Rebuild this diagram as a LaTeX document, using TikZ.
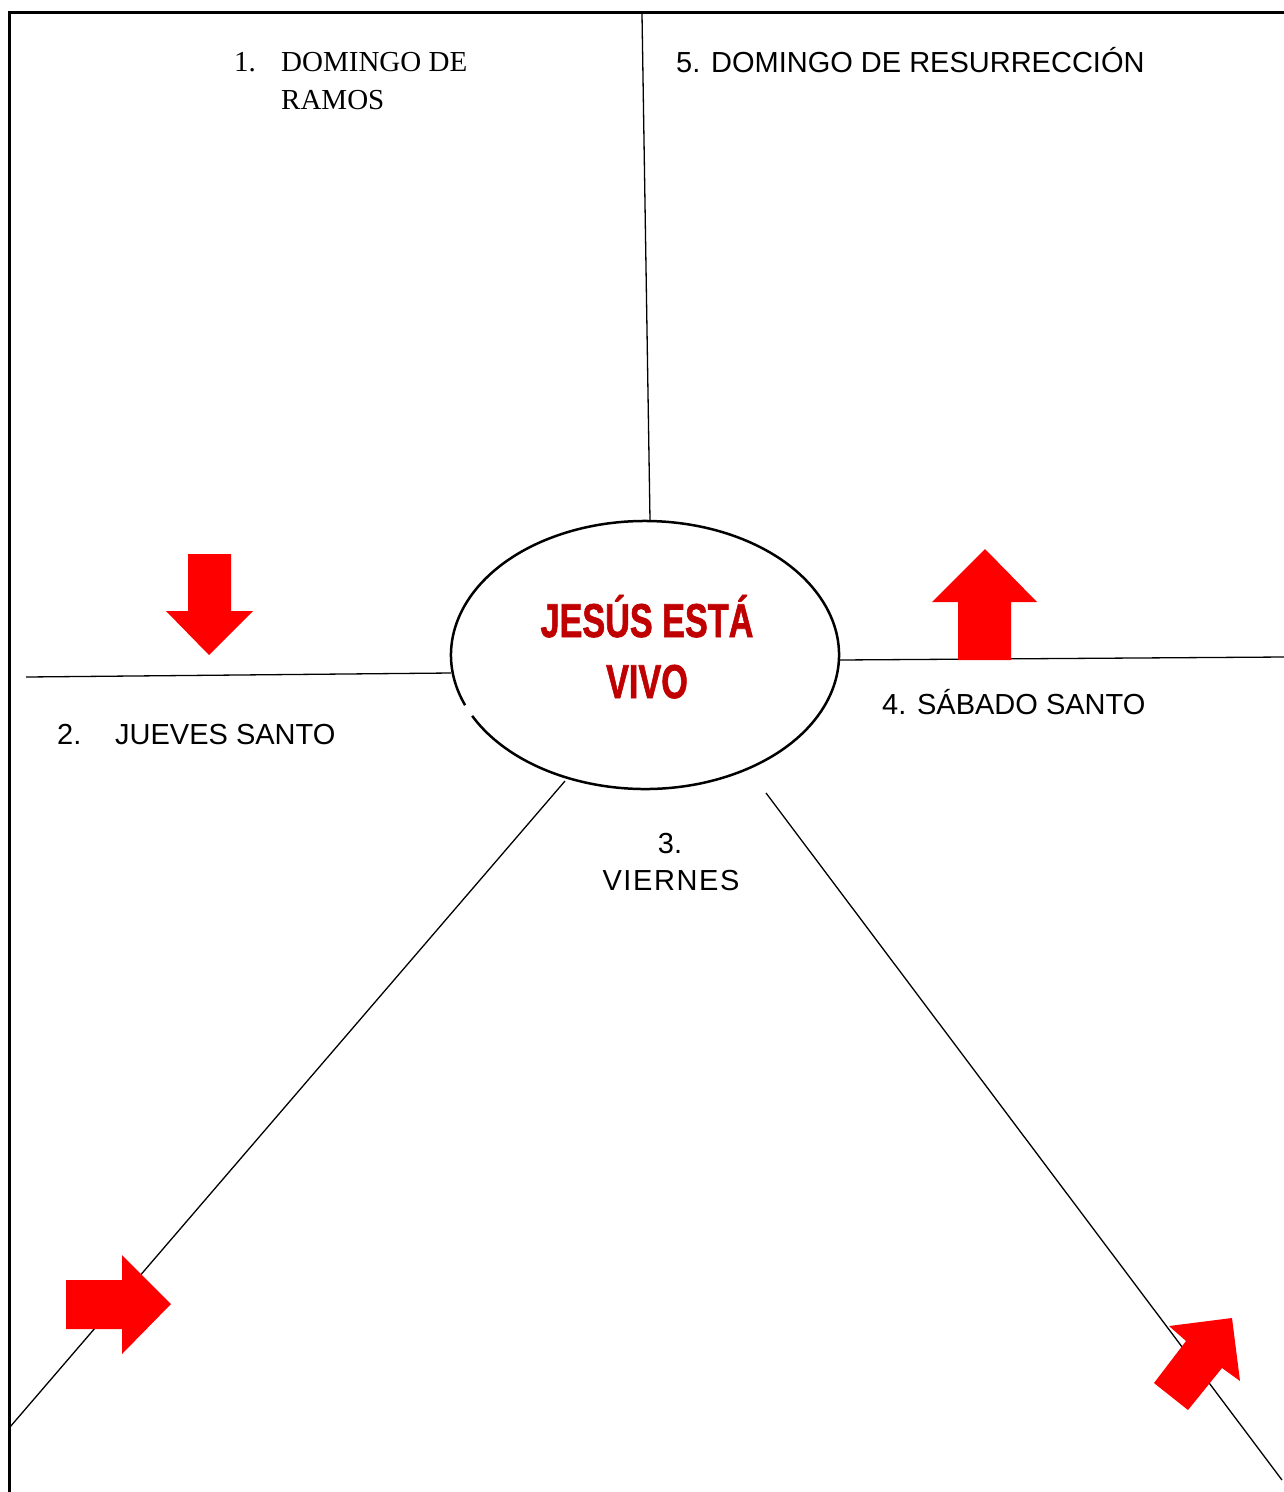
\documentclass[tikz,border=0pt]{standalone}
\usepackage{fontspec}
\usepackage{graphicx}
\setmainfont{Liberation Serif}
\newfontfamily\arialf{Liberation Sans}
\newfontfamily\titlefont[FakeBold=1.6]{Liberation Sans Bold}
\definecolor{darkred}{HTML}{C00000}
\begin{document}
\begin{tikzpicture}[x=1pt,y=-1pt,
 thinline/.style={line width=1.3pt,black},
 frameline/.style={line width=3pt,black},
 redarrow/.style={fill=red,draw=none},
 lbl/.style={inner sep=0pt,anchor=base west,font=\arialf\fontsize{29}{34}\selectfont},
 clbl/.style={inner sep=0pt,anchor=base,font=\arialf\fontsize{29}{34}\selectfont},
 tlbl/.style={inner sep=0pt,anchor=base west,font=\fontsize{29}{34}\selectfont},
 title/.style={inner sep=0pt,anchor=base,text=darkred,font=\titlefont\fontsize{47.5}{50}\selectfont},
]
\useasboundingbox[fill=white] (0,0) rectangle (1284,1492);
% frame
\coordinate (fr1) at (1284,12);
\coordinate (fr2) at (9,12);
\coordinate (fr3) at (9,1492);
\draw[frameline] (fr1) -- (fr2) -- (fr3);
% ellipse
\draw[line width=2.5pt,shift={(645,655)}] (207:194pt and 134pt) arc[start angle=207,end angle=562,x radius=194pt,y radius=134pt];
\node[inner sep=0pt,minimum width=388pt,minimum height=268pt] (c) at (645,655) {};
% line endpoints
\coordinate (topA) at (642,14);
\coordinate (topB) at (650,520);
\coordinate (leftA) at (26,677);
\coordinate (leftB) at (451,673);
\coordinate (rightA) at (839,660);
\coordinate (rightB) at (1284,657);
\coordinate (llA) at (565,781);
\coordinate (llB) at (10,1427);
\coordinate (lrA) at (766,793);
\coordinate (lrB) at (1282,1480);
\draw[thinline] (topA) -- (topB);
\draw[thinline] (leftA) -- (leftB);
\draw[thinline] (rightA) -- (rightB);
\draw[thinline] (llA) -- (llB);
\draw[thinline] (lrA) -- (lrB);
% arrows
\fill[redarrow] (188,554) -- (231,554) -- (231,611) -- (253,611) -- (209,655) -- (166,611) -- (188,611) -- cycle;
\fill[redarrow] (958,660) -- (958,602) -- (932,602) -- (985,549) -- (1037,602) -- (1011,602) -- (1011,660) -- cycle;
\fill[redarrow] (66,1280) -- (122,1280) -- (122,1255) -- (171,1304) -- (122,1354) -- (122,1329) -- (66,1329) -- cycle;
\fill[redarrow] (1154,1383) -- (1186,1341) -- (1169,1326) -- (1232,1318) -- (1240,1381) -- (1222,1368) -- (1188,1410) -- cycle;
% title
\node[title] (t1) at (647,637) {\scalebox{0.72}[1]{JESÚS ESTÁ}};
\node[title] (t2) at (647,698) {\scalebox{0.72}[1]{VIVO}};
% labels
\node[tlbl] (n1) at (234,71) {1.};
\node[tlbl] (l1a) at (281,71) {DOMINGO DE};
\node[tlbl] (l1b) at (281,109) {RAMOS};
\node[lbl] (l5) at (676,72) {5. DOMINGO DE RESURRECCIÓN};
\node[lbl] (n2) at (57,744) {2.};
\node[lbl] (l2) at (115,744) {JUEVES SANTO};
\node[lbl] (l4) at (882,714) {4. SÁBADO SANTO};
\node[clbl] (n3) at (670,853) {3.};
\node[clbl,font=\arialf\fontsize{29}{34}\selectfont\addfontfeature{LetterSpace=5.5}] (l3) at (671,890) {VIERNES};
\end{tikzpicture}
\end{document}
